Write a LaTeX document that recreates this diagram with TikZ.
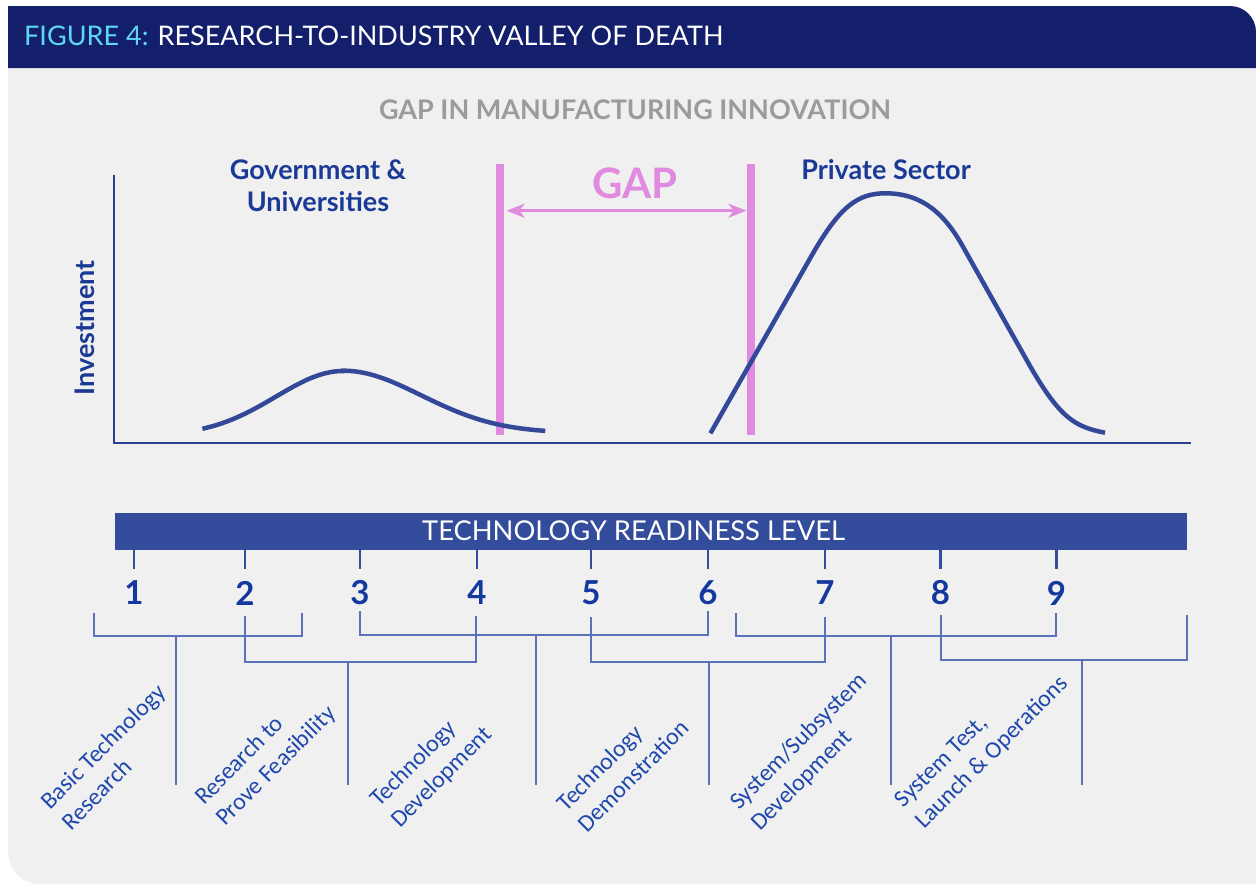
\documentclass[tikz,border=0pt]{standalone}
\usepackage{fontspec}
\setmainfont{Lato}
\newfontfamily\labelfont{Carlito}
\usetikzlibrary{arrows.meta}

\definecolor{headnavy}{HTML}{131F6A}
\definecolor{panelgray}{HTML}{F0F0F0}
\definecolor{barblue}{HTML}{334C9C}
\definecolor{numblue}{HTML}{1438A0}
\definecolor{headblue}{HTML}{1A3A96}
\definecolor{lblblue}{HTML}{1F48AD}
\definecolor{brkline}{HTML}{5B72B8}
\definecolor{curveblue}{HTML}{34489A}
\definecolor{axisblue}{HTML}{2A3F8F}
\definecolor{gappink}{HTML}{E08BE0}
\definecolor{titlegray}{HTML}{9B9B9B}
\definecolor{figcyan}{HTML}{5FD6F5}

\begin{document}
\begin{tikzpicture}[x=1pt,y=-1pt,
  trltick/.style={draw=barblue, line width=2.5pt},
  num/.style={font=\bfseries\fontsize{33}{33}\selectfont, text=numblue, inner sep=0pt},
  phase/.style={font=\labelfont\fontsize{24}{29.5}\selectfont, text=lblblue, rotate=45,
                anchor=west, align=left, inner sep=0pt},
  brk/.style={draw=brkline, line width=2pt},
  curvesty/.style={draw=curveblue, line width=4.5pt},
  gapline/.style={draw=gappink, line width=8pt},
  sector/.style={font=\bfseries\fontsize{27}{32}\selectfont, text=headblue, align=center, inner sep=0pt}]

\useasboundingbox (0,0) rectangle (1256,884);
\fill[white] (0,0) rectangle (1256,884);

% panel and header band
\fill[panelgray] (1256,68) -- (8,68) [rounded corners=32pt] -- (8,884) [sharp corners] -- (1256,884) -- cycle;
\fill[headnavy] (8,68) -- (8,6) [rounded corners=26pt] -- (1256,6) [sharp corners] -- (1256,68) -- cycle;
\node[anchor=base west, inner sep=0pt, font=\fontsize{27}{27}\selectfont] (figtitle) at (24,45)
  {\textcolor{figcyan}{FIGURE 4:} \textcolor{white}{RESEARCH-TO-INDUSTRY VALLEY OF DEATH}};

% chart heading
\node[font=\bfseries\fontsize{27}{27}\selectfont, text=titlegray, inner sep=0pt] (gaptitle) at (635,110)
  {GAP IN MANUFACTURING INNOVATION};

% axes
\coordinate (ytop) at (113.6,175);
\coordinate (orig) at (113.6,443);
\coordinate (xend) at (1191,443);
\draw[axisblue, line width=2pt] (ytop) -- (orig) -- (xend);
\node[font=\bfseries\fontsize{27}{27}\selectfont, text=headblue, rotate=90, inner sep=0pt] (inv) at (85,328) {Investment};

% sector labels
\node[sector] (gov) at (318,186) {Government \&\\Universities};
\node[sector] (priv) at (886,170) {Private Sector};

% gap markers
\coordinate (g1t) at (500,164); \coordinate (g1b) at (500,435);
\coordinate (g2t) at (751,164); \coordinate (g2b) at (751,435);
\draw[gapline] (g1t) -- (g1b);
\draw[gapline] (g2t) -- (g2b);
\coordinate (ga) at (506.5,210.7);
\coordinate (gb) at (746.5,210.7);
\draw[gappink, line width=3pt, {Stealth[length=18pt,width=14pt,inset=5pt]}-{Stealth[length=18pt,width=14pt,inset=5pt]}] (ga) -- (gb);
\node[font=\bfseries\fontsize{42}{42}\selectfont, text=gappink, inner sep=0pt] (gap) at (635,183) {GAP};

% investment curves: public funding hump (skewed bell) and private funding hump
\draw[curvesty] plot[domain=202.4:343.2, samples=50, smooth] (\x,{436-65*exp(-((\x-343.2)/95)^2)})
  -- plot[domain=343.2:545.3, samples=60, smooth] (\x,{433-62.3*exp(-((\x-343.2)/110)^2)});
\draw[curvesty] (710.4,433.3) -- (812,255)
  .. controls (840,206) and (858,193.3) .. (885.4,193.3)
  .. controls (915,193.3) and (940,206) .. (962,245)
  -- (1030,366)
  .. controls (1060,418) and (1075,427) .. (1105,432.7);

% technology readiness bar
\node[fill=barblue, minimum width=1072pt, minimum height=37pt, inner sep=0pt, anchor=north west] (bar) at (115,513) {};
\node[text=white, font=\fontsize{27.3}{27.3}\selectfont, inner sep=0pt] (trl) at (633.5,531) {TECHNOLOGY READINESS LEVEL};

\foreach \i/\x in {1/134,2/245,3/360,4/477,5/591,6/708,7/825,8/940.5,9/1056.5}{
  \coordinate (t\i) at (\x,569);
  \draw[trltick] (t\i |- bar.south) -- (t\i);
  \node[num] (n\i) at (\x,593) {\i};
}

% phase brackets
\foreach \n/\l/\r/\t/\b/\s in {a/94/302/613/636/175.5, b/245/476/616/662/348,
    c/360/708/611/635/535.5, d/591/824.5/617/662/709, e/736.4/1056/613/636/890.6,
    f/940.5/1187/615/660/1081.6}{
  \coordinate (\n l) at (\l,\t);
  \coordinate (\n r) at (\r,\t);
  \coordinate (\n m) at (\s,\b);
  \coordinate (\n e) at (\s,785);
  \draw[brk] (\n l) |- (\n m) -| (\n r);
  \draw[brk] (\n m) -- (\n e);
}

% phase names
\node[phase] (p1) at (55,815) {Basic Technology\\Research};
\node[phase] (p2) at (210,812) {Research to\\Prove Feasibility};
\node[phase] (p3) at (385,814) {Technology\\Development};
\node[phase] (p4) at (571,817) {Technology\\Demonstration};
\node[phase] (p5) at (745,817) {System/Subsystem\\Development};
\node[phase] (p6) at (910,815) {System Test,\\Launch \& Operations};

\end{tikzpicture}
\end{document}
